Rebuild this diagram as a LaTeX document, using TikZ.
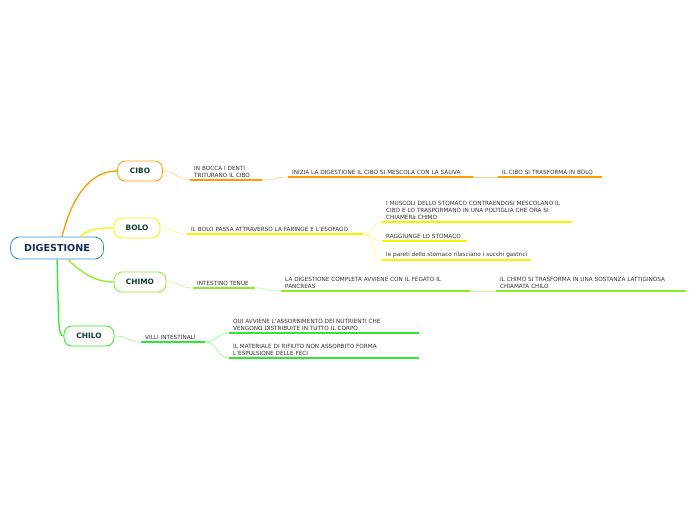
\documentclass[tikz,border=0pt]{standalone}
\usepackage{fontspec}
\setmainfont{DejaVu Sans}
\usepackage{tikz}
\usetikzlibrary{positioning, calc}

\definecolor{cibocol}{HTML}{FF9A00}
\definecolor{bolocol}{HTML}{F5F500}
\definecolor{chimocol}{HTML}{8EEB2A}
\definecolor{chilocol}{HTML}{2EE82E}
\definecolor{maincol}{HTML}{3A8FD8}
\definecolor{maintext}{HTML}{1A2A50}
\definecolor{topictext}{HTML}{123A30}
\definecolor{subtext}{HTML}{333333}

\tikzset{
  mainbox/.style={draw=maincol, fill=white, line width=0.8pt, rounded corners=9pt,
    minimum width=93, minimum height=22, text=maintext, font=\fontsize{9.6}{11}\selectfont\bfseries},
  topic/.style={draw=#1, fill=white, line width=0.8pt, rounded corners=8pt,
    minimum height=20, text=topictext, font=\fontsize{7.4}{9}\selectfont\bfseries},
  sub/.style={anchor=south west, inner xsep=4, inner ysep=2, text width=#1-8, align=left,
    text=subtext, font=\fontsize{5.7}{7}\selectfont},
  branch/.style={draw=#1, line width=1.3pt},
  link/.style={draw=#1!45, line width=0.7pt},
  uline/.style={draw=#1, line width=1.3pt}
}

\begin{document}
\begin{tikzpicture}[x=1pt, y=-1pt]
    \useasboundingbox (0,0) rectangle (696,520);

    % Central topic and main branches
    \node[mainbox] (digest) at (57,248) {DIGESTIONE};
    \node[topic=cibocol, minimum width=45] (cibo) at (140,171) {CIBO};
    \node[topic=bolocol, minimum width=46] (bolo) at (137,228) {BOLO};
    \node[topic=chimocol, minimum width=52] (chimo) at (140,282) {CHIMO};
    \node[topic=chilocol, minimum width=50] (chilo) at (89,336) {CHILO};

    \draw[branch=cibocol] ([xshift=5]digest.north) .. controls +(12,-48) and +(-22,0) .. (cibo.west);
    \draw[branch=bolocol] ([xshift=23]digest.north) .. controls +(10,-8) and +(-16,0) .. (bolo.west);
    \draw[branch=chimocol] ([xshift=11]digest.south) .. controls +(14,14) and +(-18,0) .. (chimo.west);
    \draw[branch=chilocol] (digest.south) .. controls +(2,62) and +(-6,0) .. (chilo.west);

    % CIBO
    \node[sub=72] (cibo1) at (190,180) {IN BOCCA I DENTI\\TRITURANO IL CIBO};
    \node[sub=185] (cibo2) at (288,177) {INIZIA LA DIGESTIONE IL CIBO SI MESCOLA CON LA SALIVA};
    \node[sub=104] (cibo3) at (498,177) {IL CIBO SI TRASFORMA IN BOLO};
    \draw[link=cibocol] (cibo.east) .. controls +(14,0) and +(-14,0) .. (cibo1.south west);
    \draw[link=cibocol] (cibo1.south east) .. controls +(13,0) and +(-13,0) .. (cibo2.south west);
    \draw[link=cibocol] (cibo2.south east) -- (cibo3.south west);
    \foreach \n in {cibo1,cibo2,cibo3}
      \draw[uline=cibocol] (\n.south west) -- (\n.south east);

    % BOLO
    \node[sub=176] (bolo1) at (187,234) {IL BOLO PASSA ATTRAVERSO LA FARINGE E L'ESOFAGO};
    \node[sub=190] (bolo2) at (382,222) {I MUSCOLI DELLO STOMACO CONTRAENDOSI MESCOLANO IL\\CIBO E LO TRASPORMANO IN UNA POLTIGLIA CHE ORA SI\\CHIAMERà CHIMO};
    \node[sub=85] (bolo3) at (382,241) {RAGGIUNGE LO STOMACO};
    \node[sub=149] (bolo4) at (382,260) {\mbox{le pareti dello stomaco rilasciano i succhi gastrici}};
    \draw[link=bolocol] (bolo.east) .. controls +(14,0) and +(-14,0) .. (bolo1.south west);
    \foreach \n in {bolo2,bolo3,bolo4}
      \draw[link=bolocol] (bolo1.south east) .. controls +(10,0) and +(-10,0) .. (\n.south west);
    \foreach \n in {bolo1,bolo2,bolo3,bolo4}
      \draw[uline=bolocol] (\n.south west) -- (\n.south east);

    % CHIMO
    \node[sub=62] (chimo1) at (193,288) {INTESTINO TENUE};
    \node[sub=189] (chimo2) at (281,291) {LA DIGESTIONE COMPLETA AVVIENE CON IL FEGATO IL\\PANCREAS};
    \node[sub=190] (chimo3) at (496,291) {IL CHIMO SI TRASFORMA IN UNA SOSTANZA LATTIGINOSA\\CHIAMATA CHILO};
    \draw[link=chimocol] (chimo.east) .. controls +(14,0) and +(-14,0) .. (chimo1.south west);
    \draw[link=chimocol] (chimo1.south east) .. controls +(13,0) and +(-13,0) .. (chimo2.south west);
    \draw[link=chimocol] (chimo2.south east) -- (chimo3.south west);
    \foreach \n in {chimo1,chimo2,chimo3}
      \draw[uline=chimocol] (\n.south west) -- (\n.south east);

    % CHILO
    \node[sub=64] (chilo1) at (141,342) {VILLI INTESTINALI};
    \node[sub=190] (chilo2) at (229,333) {QUI AVVIENE L'ASSORBIMENTO DEI NUTRIENTI CHE\\VENGONO DISTRIBUITE IN TUTTO IL CORPO};
    \node[sub=190] (chilo3) at (229,358) {IL MATERIALE DI RIFIUTO NON ASSORBITO FORMA\\L'ESPULSIONE DELLE FECI};
    \draw[link=chilocol] (chilo.east) .. controls +(14,0) and +(-14,0) .. (chilo1.south west);
    \foreach \n in {chilo2,chilo3}
      \draw[link=chilocol] (chilo1.south east) .. controls +(12,0) and +(-12,0) .. (\n.south west);
    \foreach \n in {chilo1,chilo2,chilo3}
      \draw[uline=chilocol] (\n.south west) -- (\n.south east);

\end{tikzpicture}
\end{document}
